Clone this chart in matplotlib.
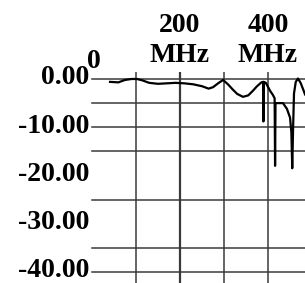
import matplotlib
matplotlib.use("Agg")
import matplotlib.pyplot as plt
from matplotlib.transforms import ScaledTranslation

# response (MHz, dB)
freq = [41, 60, 75, 90, 102, 115, 130, 150, 170, 190, 210, 230, 250, 265,
        275, 288, 298, 310, 320, 330, 343, 355, 365, 375, 385, 389, 389.5,
        390, 395, 405, 411, 415, 416, 417, 434, 443, 450, 453, 455, 457,
        459, 463, 468, 474, 480, 484]
gain = [-0.6, -0.7, -0.2, 0.0, 0.0, -0.3, -0.8, -1.0, -0.9, -0.8, -0.9,
        -1.1, -1.5, -2.0, -1.7, -0.8, -0.2, -1.2, -2.2, -3.1, -3.7, -3.4,
        -2.5, -1.5, -0.7, -0.6, -8.8, -0.6, -0.8, -2.5, -3.3, -4.0, -18.0,
        -5.0, -5.0, -6.2, -8.0, -11.0, -18.5, -10.0, -3.0, -0.6, 0.1, -0.8,
        -2.2, -3.2]

x_ticks = [0, 200, 400]
x_nums = ["0", "200", "400"]
x_units = ["", "MHz", "MHz"]
y_ticks = [0, -10, -20, -30, -40]
y_labels = ["0.00", "-10.00", "-20.00", "-30.00", "-40.00"]
h_grid = [0, -5, -10, -15, -25, -35, -40]
v_grid = [100, 200, 300, 400]

plt.rcParams['font.family'] = ['Liberation Serif', 'DejaVu Serif']
plt.rcParams['font.weight'] = 'bold'

fig = plt.figure(figsize=(3.05, 2.83), dpi=100)
ax = fig.add_axes([0.3016, 0.0389, 0.6984, 0.682])
ax.set_xlim(0, 484)
ax.set_ylim(-40, 0)
for s in ax.spines.values():
    s.set_visible(False)

for g in h_grid:
    ax.axhline(g, color='#3a3a3a', lw=1.1, clip_on=False)
for g in v_grid:
    ax.vlines(g, -42.5, 1.5, color='#3a3a3a', lw=1.6 if g == 200 else 1.1,
              clip_on=False)

ax.plot(freq, gain, color='black', lw=1.6, clip_on=False)

ax.set_xticks([])
ax.set_yticks(y_ticks)
ax.set_yticklabels(y_labels, fontsize=20, fontweight='bold')
ax.tick_params(axis='y', length=0, pad=2)
shift = ScaledTranslation(0, 4 / 100, fig.dpi_scale_trans)
for lbl in ax.get_yticklabels():
    lbl.set_transform(lbl.get_transform() + shift)

xt = ax.get_xaxis_transform()
for x, n, u in zip(x_ticks, x_nums, x_units):
    if u:
        ax.annotate(n, (x, 1), xytext=(0, 34), textcoords='offset points',
                    xycoords=xt, ha='center', va='baseline', fontsize=20,
                    fontweight='bold', annotation_clip=False)
        ax.annotate(u, (x, 1), xytext=(0, 12), textcoords='offset points',
                    xycoords=xt, ha='center', va='baseline', fontsize=20,
                    fontweight='bold', annotation_clip=False)
    else:
        ax.annotate(n, (x, 1), xytext=(1, 8), textcoords='offset points',
                    xycoords=xt, ha='center', va='baseline', fontsize=20,
                    fontweight='bold', annotation_clip=False)

fig.savefig("out.png", dpi=100)
